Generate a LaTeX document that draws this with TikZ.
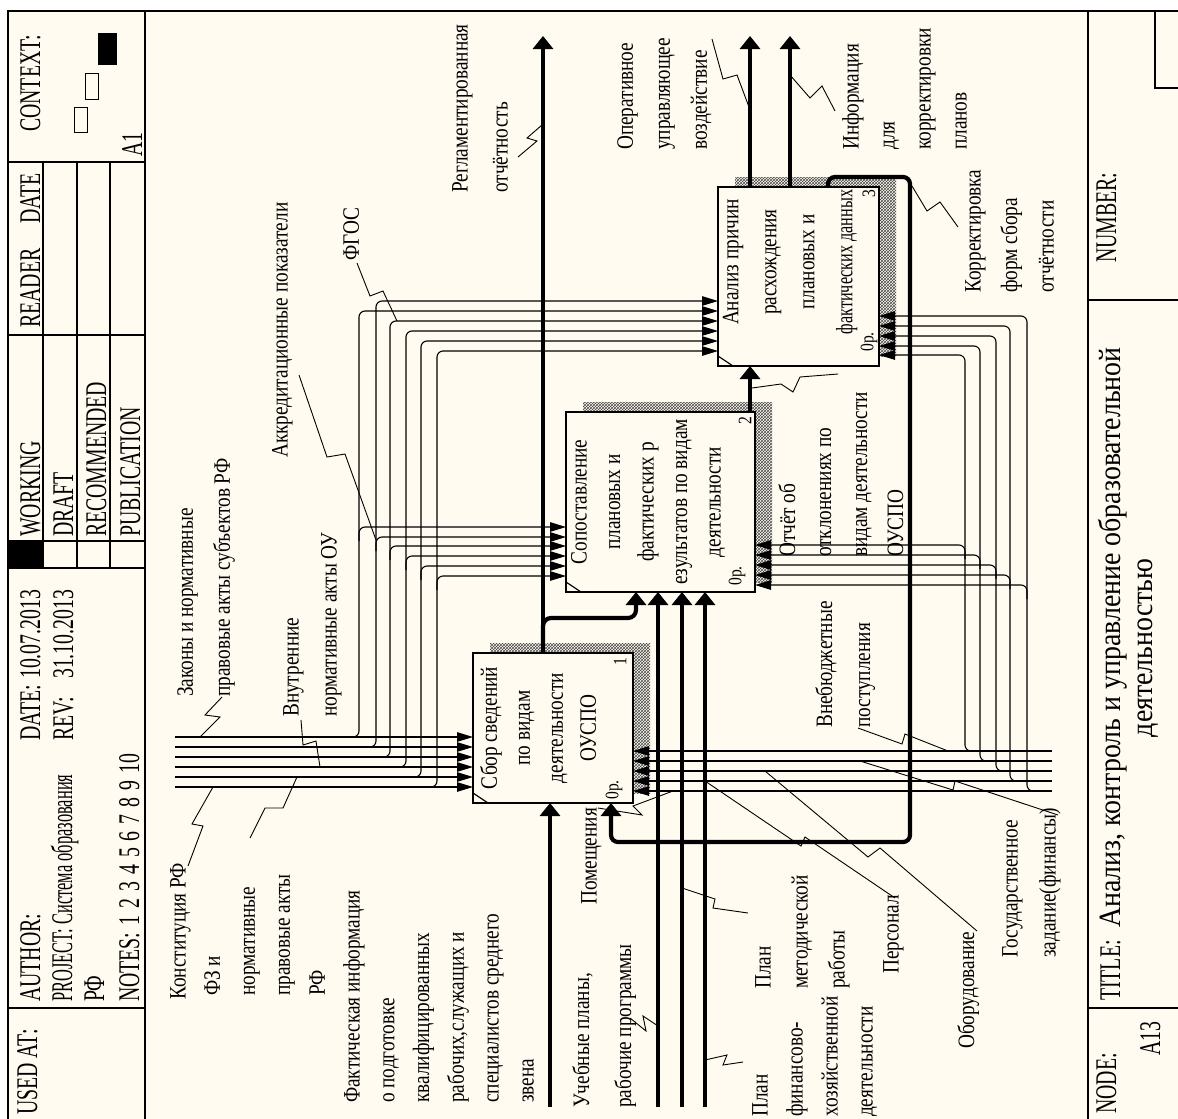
\documentclass[tikz,border=0pt]{standalone}
\usepackage{fontspec}
\setmainfont{Liberation Serif}
\newfontfamily\lblf[FakeStretch=0.82]{Liberation Serif}
\newfontfamily\hdrf[FakeStretch=0.66]{Liberation Serif}
\newfontfamily\ttlf[FakeStretch=0.9]{Liberation Serif}
\usetikzlibrary{arrows.meta,patterns}
\definecolor{paper}{RGB}{255,251,240}

\begin{document}
\begin{tikzpicture}[x=1pt,y=-1pt,
  frame/.style={line width=1.3pt},
  grid/.style={line width=1.1pt},
  ctl/.style={line width=1.1pt,rounded corners=6pt,-{Triangle[length=16pt,width=9.5pt]}},
  thk/.style={line width=4.2pt,-{Triangle[length=13pt,width=20pt]}},
  leader/.style={line width=0.9pt},
  box/.style={draw,line width=2.4pt,fill=paper,inner sep=0pt,outer sep=0pt},
  shadow/.style={pattern=crosshatch,pattern color=black!70},
  lbl/.style={rotate=90,anchor=north west,inner sep=0pt,align=left,
    font=\lblf\fontsize{23.5}{#1}\selectfont},
  lbl/.default=36,
  boxtxt/.style={rotate=90,inner sep=0pt,align=center,
    font=\lblf\fontsize{23.5}{#1}\selectfont},
  boxtxt/.default=33,
  small/.style={rotate=90,inner sep=0pt,font=\lblf\fontsize{19}{19}\selectfont},
  hdr/.style={rotate=90,anchor=base west,inner sep=0pt,font=\hdrf\fontsize{30}{30}\selectfont},
  ttl/.style={rotate=90,inner sep=0pt,font=\ttlf\fontsize{31}{31}\selectfont}
]
\useasboundingbox (0,0) rectangle (1178,1119);
\fill[white] (0,0) rectangle (1178,1119);
\fill[paper] (8,11) rectangle (1178,1119);

% ---------- form frame ----------
\draw[frame] (8,1119) -- (8,11) -- (1178,11);
\draw[frame] (145,11) -- (145,1119);
\draw[line width=2.4pt] (1088,11) -- (1088,1119);

% header grid
\draw[grid] (8,162) -- (145,162);
\draw[grid] (8,335) -- (145,335);
\draw[grid] (8,541) -- (145,541);
\draw[grid] (8,568) -- (145,568);
\draw[grid] (8,1008) -- (145,1008);
\foreach \gx in {43,77,110} \draw[grid] (\gx,162) -- (\gx,568);
\fill[black] (8,541) rectangle (43,568);

% context thumbnails
\fill[black] (98,33) rectangle (117,65);
\draw[line width=1pt] (85,73) rectangle (98,99);
\draw[line width=1pt] (74,107) rectangle (87,132);

% header texts
\node[hdr] (hctx) at (40,132) {CONTEXT:};
\node[hdr] (ha1) at (142,157) {A1};
\node[hdr] (hdate) at (40,224) {DATE};
\node[hdr] (hreader) at (40,328) {READER};
\node[hdr] (hwork) at (40,537) {WORKING};
\node[hdr] (hdraft) at (73,537) {DRAFT};
\node[hdr] (hrec) at (106,537) {RECOMMENDED};
\node[hdr] (hpub) at (140,537) {PUBLICATION};
\node[hdr] (hdt) at (40,741) {DATE:};
\node[hdr] (hdtv) at (40,679) {10.07.2013};
\node[hdr] (hrev) at (73,741) {REV:};
\node[hdr] (hrevv) at (73,679) {31.10.2013};
\node[hdr] (hauth) at (40,1002) {AUTHOR:};
\node[hdr] (hproj) at (72,1002) {\scalebox{0.83}[1]{PROJECT: Система образования}};
\node[hdr] (hproj2) at (104,1002) {РФ};
\node[hdr] (hnotes) at (139,1002) {NOTES:\hspace{7pt}1\hspace{7pt}2\hspace{7pt}3\hspace{7pt}4\hspace{7pt}5\hspace{7pt}6\hspace{7pt}7\hspace{7pt}8\hspace{7pt}9\hspace{7pt}10};
\node[hdr] (hused) at (37,1115) {USED AT:};

% footer
\draw[grid] (1088,300) -- (1178,300);
\draw[grid] (1088,1008) -- (1178,1008);
\draw[grid] (1155,11) -- (1155,88) -- (1178,88);
\node[hdr] (fnum) at (1116,263) {NUMBER:};
\node[hdr] (fnode) at (1116,1114) {NODE:};
\node[hdr] (fa13) at (1160,1056) {A13};
\node[hdr] (ftit) at (1120,1001) {TITLE:};
\node[ttl,anchor=base west] (ftl1) at (1120,928) {Анализ, контроль и управление образовательной};
\node[ttl,anchor=base] (ftl2) at (1152,648) {деятельностью};

% ---------- activity boxes ----------
\fill[shadow] (490,643) rectangle (650,793);
\fill[shadow] (583,402) rectangle (772,582);
\fill[shadow] (735,177) rectangle (896,356);
\node[box,minimum width=160pt,minimum height=150pt] (b1) at (553,728) {};
\node[box,minimum width=189pt,minimum height=180pt] (b2) at (660.5,502) {};
\node[box,minimum width=161pt,minimum height=179pt] (b3) at (798.5,276.5) {};

% ---------- controls ----------
\foreach \c/\v/\b/\t in {737/359/527/311, 747/376/537/301, 757/390/546/321,
                         767/406/556/331, 777/421/566/341, 787/437/576/351}{
  \draw[ctl] (175,\c) -- (b1.west |- 0,\c);
  \draw[ctl] (\v-14,\c) -| (\v,\t) -- (b3.west |- 0,\t);
  \draw[ctl] (\v,\b+14) |- (b2.west |- 0,\b);
}

% ---------- mechanisms ----------
\foreach \m/\w/\p/\q in {751/965/545/355, 761/980/555/346, 771/996/565/336,
                         781/1010/575/326, 791/1027/585/316}{
  \draw[ctl] (1052,\m) -- (b1.east |- 0,\m);
  \draw[ctl] (\w+14,\m) -| (\w,\q) -- (b3.east |- 0,\q);
  \draw[ctl] (\w,\p+14) |- (b2.east |- 0,\p);
}

% ---------- inputs and outputs ----------
\coordinate (oreg) at (543,36);
\coordinate (ooper) at (750,36);
\coordinate (oinfo) at (790,36);
\coordinate (ifact) at (550,1107);
\coordinate (iuch) at (658,1107);
\coordinate (imet) at (682,1107);
\coordinate (ifin) at (705,1107);
\draw[thk] (b1.north -| oreg) -- (oreg);
\draw[thk,rounded corners=8pt] (543,645) |- (636,618) -- (b2.south -| 636,0);
\draw[thk] (b2.north -| 750,0) -- (b3.south -| 750,0);
\draw[thk] (b3.north -| ooper) -- (ooper);
\draw[thk] (b3.north -| oinfo) -- (oinfo);
\draw[thk,rounded corners=7pt] (b3.north -| 828,0) -- (828,177) -- (910,177)
   -- (910,842) -- (611,842) -- (b1.south -| 611,0);
\draw[thk] (ifact) -- (b1.south -| ifact);
\draw[thk] (iuch) -- (b2.south -| iuch);
\draw[thk] (imet) -- (b2.south -| imet);
\draw[thk] (ifin) -- (b2.south -| ifin);

% box borders over the wire ends
\draw[line width=2.4pt] (b1.south west) rectangle (b1.north east);
\draw[line width=2.4pt] (b2.south west) rectangle (b2.north east);
\draw[line width=2.4pt] (b3.south west) rectangle (b3.north east);
\foreach \b in {b1,b2,b3}
  \draw[line width=1.2pt] ([yshift=10pt]\b.south west) -- ([xshift=15pt]\b.south west);

% box texts
\node[boxtxt] (t1) at (538,728) {Сбор сведений\\по видам\\деятельности\\ОУСПО};
\node[boxtxt=33.5] (t2) at (648,502) {Сопоставление\\плановых и\\фактических р\\езультатов по видам\\деятельности};
\node[boxtxt=38] (t3) at (790,262) {Анализ причин\\расхождения\\плановых и\\\scalebox{0.84}[1]{фактических данных}};
\node[small] (n1) at (620,662) {1};
\node[small] (n2) at (745,421) {2};
\node[small] (n3) at (869,194) {3};
\node[small] (c1) at (614,790) {0р.};
\node[small] (c2) at (737,576) {0р.};
\node[small] (c3) at (869,342) {0р.};

% ---------- arrow labels ----------
\node[lbl] (lkon) at (170,1000) {Конституция РФ};
\node[lbl=35] (lfz) at (204,996) {ФЗ и\\нормативные\\правовые акты\\РФ};
\node[lbl=37] (lzak) at (177,697) {Законы и нормативные\\правовые акты субъектов РФ};
\node[lbl=38] (lvn) at (283,717) {Внутренние\\нормативные акты ОУ};
\node[lbl] (lakk) at (272,458) {Аккредитационные показатели};
\node[lbl] (lfgos) at (343,261) {ФГОС};
\node[lbl=40] (lreg) at (452,193) {Регламентированная\\отчётность};
\node[lbl=37] (loper) at (617,150) {Оперативное\\управляющее\\воздействие};
\node[lbl=36] (linfo) at (842,150) {Информация\\для\\корректировки\\планов};
\node[lbl=36.5] (lkorr) at (965,293) {Корректировка\\форм сбора\\отчётности};
\node[lbl=36] (lotch) at (778,557) {Отчёт об\\отклонениях по\\видам деятельности\\ОУСПО};
\node[lbl=38] (lvneb) at (815,728) {Внебюджетные\\поступления};
\node[lbl=38] (lgos) at (1002,958) {Государственное\\задание(финансы)};
\node[lbl] (lobor) at (957,1049) {Оборудование};
\node[lbl] (lpers) at (883,974) {Персонал};
\node[lbl=37] (lmet) at (755,989) {План\\методической\\работы};
\node[lbl=35] (lfin) at (752,1117) {План\\финансово-\\хозяйственной\\деятельности};
\node[lbl=42] (luch) at (572,1108) {Учебные планы,\\рабочие программы};
\node[lbl] (lpom) at (581,905) {Помещения};
\node[lbl=34.8] (lfact) at (343,1103) {Фактическая информация\\о подготовке\\квалифицированных\\рабочих,служащих и\\специалистов среднего\\звена};

% ---------- label leaders ----------
\draw[leader] (518,157) -- (537,141) -- (527,138) -- (542,125);
\draw[leader] (712,39) -- (723,79) -- (737,75) -- (749,107);
\draw[leader] (790,75) -- (810,98) -- (822,86) -- (835,111);
\draw[leader] (912,186) -- (927,211) -- (940,202) -- (958,227);
\draw[leader] (838,374) -- (800,377) -- (793,392) -- (781,384) -- (752,388);
\draw[leader] (299,375) -- (327,457) -- (345,454) -- (376,540);
\draw[leader] (357,263) -- (370,296) -- (383,291) -- (397,321);
\draw[leader] (222,697) -- (205,715) -- (220,717) -- (200,737);
\draw[leader] (301,720) -- (303,745) -- (316,741) -- (320,767);
\draw[leader] (188,866) -- (203,826) -- (192,824) -- (213,787);
\draw[leader] (250,838) -- (265,808) -- (283,808) -- (297,777);
\draw[leader] (858,728) -- (902,744) -- (905,734) -- (948,751);
\draw[leader] (1058,815) -- (955,781) -- (953,790) -- (860,761);
\draw[leader] (977,931) -- (880,848) -- (868,857) -- (765,771);
\draw[leader] (895,898) -- (805,837) -- (801,846) -- (705,781);
\draw[leader] (598,808) -- (642,815) -- (633,806) -- (673,791);
\draw[leader] (630,1018) -- (646,1031) -- (643,1016) -- (658,1026);
\draw[leader] (748,913) -- (713,908) -- (715,899) -- (682,888);
\draw[leader] (743,1062) -- (723,1065) -- (727,1055) -- (705,1060);
\end{tikzpicture}
\end{document}
